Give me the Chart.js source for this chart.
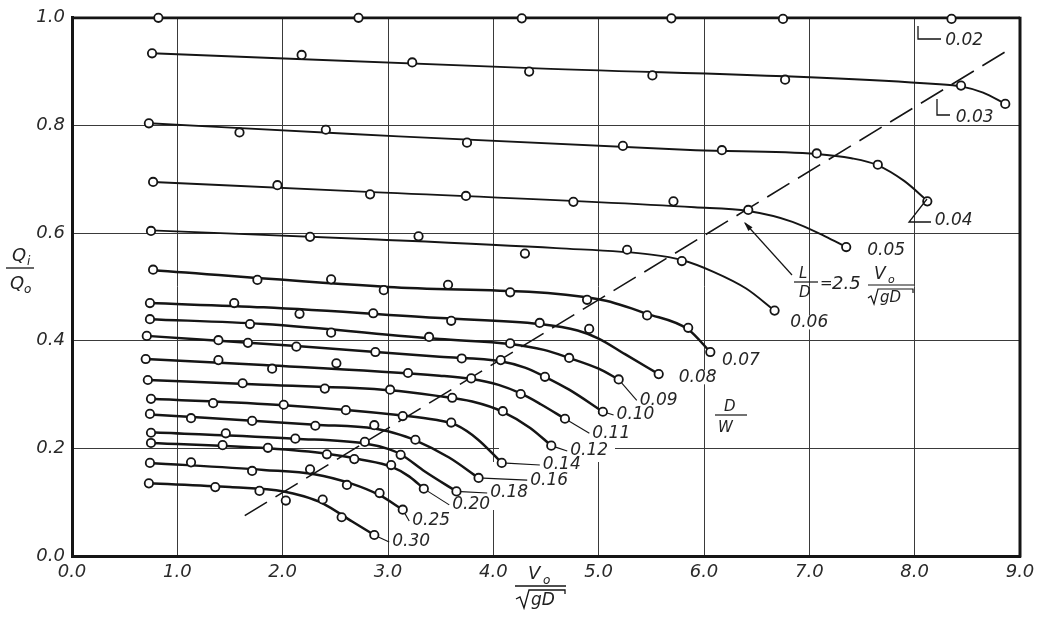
<!DOCTYPE html>
<html><head><meta charset="utf-8">
<script src="https://cdn.jsdelivr.net/npm/chart.js@4.4.1/dist/chart.umd.min.js"></script>
<style>html,body{margin:0;padding:0;background:#fff;overflow:hidden}#wrap{width:1049px;height:618px}</style>
</head><body><div id="wrap"><canvas id="c" width="1049" height="618"></canvas></div>
<script>
// ---------- data ----------
const dwLabels = ["0.02","0.03","0.04","0.05","0.06","0.07","0.08","0.09","0.10","0.11","0.12","0.14","0.16","0.18","0.20","0.25","0.30"];
const xTickLabels = ["0.0","1.0","2.0","3.0","4.0","5.0","6.0","7.0","8.0","9.0"];
const yTickLabels = ["0.0","0.2","0.4","0.6","0.8","1.0"];

// measured points (V0/sqrt(gD), Qi/Q0)
const m02 = [[0.82,1.0],[2.72,1.0],[4.27,0.999],[5.69,0.999],[6.75,0.998],[8.35,0.998]];
const m03 = [[0.76,0.934],[2.18,0.931],[3.23,0.917],[4.34,0.900],[5.51,0.893],[6.77,0.885],[8.44,0.874],[8.86,0.840]];
const m04 = [[0.73,0.804],[1.59,0.787],[2.41,0.792],[3.75,0.768],[5.23,0.762],[6.17,0.754],[7.07,0.748],[7.65,0.727],[8.12,0.659]];
const m05 = [[0.77,0.695],[1.95,0.689],[2.83,0.672],[3.74,0.669],[4.76,0.658],[5.71,0.659],[6.42,0.643],[7.35,0.574]];
const m06 = [[0.75,0.604],[2.26,0.593],[3.29,0.594],[4.30,0.562],[5.27,0.569],[5.79,0.548],[6.67,0.456]];
const m07 = [[0.77,0.532],[1.76,0.513],[2.46,0.514],[2.96,0.494],[3.57,0.504],[4.16,0.490],[4.89,0.476],[5.46,0.447],[5.85,0.424],[6.06,0.379]];
const m08 = [[0.74,0.470],[1.54,0.470],[2.16,0.450],[2.86,0.451],[3.60,0.437],[4.44,0.433],[4.91,0.422],[5.57,0.338]];
const m09 = [[0.74,0.440],[1.69,0.431],[2.46,0.415],[3.39,0.407],[4.16,0.395],[4.72,0.368],[5.19,0.328]];
const m10 = [[0.71,0.409],[1.39,0.401],[1.67,0.396],[2.13,0.389],[2.88,0.379],[3.70,0.367],[4.07,0.364],[4.49,0.333],[5.04,0.268]];
const m11 = [[0.70,0.366],[1.39,0.364],[1.90,0.348],[2.51,0.358],[3.19,0.340],[3.79,0.330],[4.26,0.301],[4.68,0.255]];
const m12 = [[0.72,0.327],[1.62,0.321],[2.40,0.311],[3.02,0.309],[3.61,0.294],[4.09,0.269],[4.55,0.205]];
const m14 = [[0.75,0.292],[1.34,0.284],[2.01,0.281],[2.60,0.271],[3.14,0.260],[3.60,0.248],[4.08,0.173]];
const m16 = [[0.74,0.264],[1.13,0.256],[1.71,0.251],[2.31,0.242],[2.87,0.243],[3.26,0.216],[3.86,0.145]];
const m18 = [[0.75,0.229],[1.46,0.228],[2.12,0.218],[2.78,0.212],[3.12,0.188],[3.65,0.120]];
const m20 = [[0.75,0.210],[1.43,0.206],[1.86,0.201],[2.42,0.189],[2.68,0.180],[3.03,0.169],[3.34,0.125]];
const m25 = [[0.74,0.173],[1.13,0.174],[1.71,0.158],[2.26,0.161],[2.61,0.132],[2.92,0.117],[3.14,0.086]];
const m30 = [[0.73,0.135],[1.36,0.128],[1.78,0.121],[2.03,0.103],[2.38,0.105],[2.56,0.072],[2.87,0.039]];

// faired curves
const f02 = [[0,1.0],[9,1.0]];
const f03 = [[0.76,0.934],[4.3,0.907],[8.2,0.877],[8.45,0.872],[8.65,0.861],[8.86,0.840]];
const f04 = [[0.73,0.804],[2.66,0.784],[5.92,0.754],[7.07,0.747],[7.4,0.739],[7.65,0.726],[7.9,0.697],[8.12,0.660]];
const f05 = [[0.77,0.695],[2.66,0.678],[5.91,0.648],[6.42,0.641],[6.84,0.621],[7.15,0.594],[7.35,0.574]];
const f06 = [[0.75,0.605],[2.9,0.588],[4.6,0.572],[5.5,0.560],[5.79,0.550],[6.09,0.528],[6.4,0.497],[6.67,0.456]];
const f07 = [[0.77,0.531],[3.0,0.500],[5.0,0.477],[5.46,0.450],[5.85,0.421],[6.06,0.379]];
const f08 = [[0.74,0.470],[1.82,0.462],[3.5,0.442],[4.44,0.431],[4.8,0.419],[5.0,0.404],[5.25,0.375],[5.57,0.338]];
const f09 = [[0.74,0.440],[1.82,0.431],[3.49,0.403],[4.16,0.394],[4.48,0.383],[4.72,0.368],[5.0,0.348],[5.19,0.328]];
const f10 = [[0.71,0.409],[2.13,0.390],[3.49,0.370],[4.07,0.362],[4.3,0.350],[4.49,0.333],[4.72,0.309],[5.04,0.268]];
const f11 = [[0.70,0.366],[1.82,0.355],[3.49,0.335],[3.79,0.329],[4.05,0.318],[4.26,0.302],[4.45,0.282],[4.68,0.255]];
const f12 = [[0.72,0.327],[1.82,0.318],[3.02,0.308],[3.45,0.298],[3.8,0.287],[4.09,0.268],[4.35,0.238],[4.55,0.205]];
const f14 = [[0.75,0.292],[2.01,0.280],[3.14,0.261],[3.45,0.253],[3.65,0.243],[3.85,0.217],[4.08,0.173]];
const f16 = [[0.74,0.263],[2.31,0.244],[2.87,0.237],[3.05,0.229],[3.26,0.215],[3.58,0.183],[3.86,0.145]];
const f18 = [[0.75,0.230],[2.12,0.218],[2.78,0.209],[3.0,0.199],[3.12,0.189],[3.35,0.157],[3.65,0.120]];
const f20 = [[0.75,0.210],[1.86,0.200],[2.42,0.190],[2.75,0.179],[3.03,0.166],[3.2,0.148],[3.34,0.125]];
const f25 = [[0.74,0.173],[1.82,0.160],[2.3,0.152],[2.66,0.134],[2.92,0.113],[3.14,0.086]];
const f30 = [[0.73,0.135],[1.5,0.128],[2.01,0.120],[2.2,0.111],[2.38,0.098],[2.66,0.064],[2.87,0.039]];

// L/D = 2.5 V0/sqrt(gD) guide line
const guideLine = [[1.64,0.075],[8.92,0.944]];

const markerSets = [m02,m03,m04,m05,m06,m07,m08,m09,m10,m11,m12,m14,m16,m18,m20,m25,m30];
const curveSets  = [f02,f03,f04,f05,f06,f07,f08,f09,f10,f11,f12,f14,f16,f18,f20,f25,f30];

// ---------- annotation placement ----------
const labelX = [8.29,8.39,8.19,7.55,6.82,6.17,5.76,5.39,5.17,4.94,4.73,4.47,4.35,3.97,3.61,3.23,3.04];
const labelY = [0.957,0.814,0.623,0.568,0.434,0.364,0.332,0.289,0.262,0.228,0.195,0.169,0.141,0.117,0.095,0.065,0.026];
const gridGaps = [[705,356,10,50],[812,247,10,91],[598,414,10,48],[492,462,9,48],[499,442,116,8]];

const FONT = '"DejaVu Sans", sans-serif';
const INK = '#151515';
const toXY = a => a.map(([x,y]) => ({x, y}));

const datasets = [];
curveSets.forEach((c,i) => datasets.push({
  data: toXY(c), showLine: true, borderColor: INK,
  borderWidth: i === 0 ? 2.8 : (i < 5 ? 1.9 : 2.5), pointRadius: 0, fill: false,
  cubicInterpolationMode: 'monotone', order: 2, clip: false
}));
datasets.push({data: toXY(guideLine), showLine: true, borderColor: INK, borderWidth: 1.6,
  borderDash: [26,10], pointRadius: 0, order: 3});
markerSets.forEach(m => datasets.push({
  data: toXY(m), showLine: false, pointRadius: 4.2, pointBackgroundColor: '#fff',
  pointBorderColor: INK, pointBorderWidth: 1.8, order: 0, clip: false
}));

function line(ctx, pts, w) {
  ctx.lineWidth = w || 1.3; ctx.beginPath();
  pts.forEach(([x,y],i) => i ? ctx.lineTo(x,y) : ctx.moveTo(x,y)); ctx.stroke();
}
function txt(ctx, s, x, y, size) {
  ctx.font = 'italic ' + size + 'px ' + FONT; ctx.fillText(s, x, y);
}

const annot = {
  id: 'annot',
  beforeDatasetsDraw(chart) {
    const ctx = chart.ctx; ctx.save(); ctx.fillStyle = '#fff';
    gridGaps.forEach(([x,y,w,h]) => ctx.fillRect(x,y,w,h)); ctx.restore();
  },
  afterDraw(chart) {
    const {ctx, chartArea: a, scales: {x: sx, y: sy}} = chart;
    ctx.save();
    ctx.strokeStyle = INK; ctx.fillStyle = '#222';
    // right border
    line(ctx, [[a.right, a.top-1],[a.right, a.bottom+1.5]], 3);
    // series labels
    ctx.textBaseline = 'middle'; ctx.textAlign = 'left';
    ctx.font = 'italic 17px ' + FONT;
    dwLabels.forEach((s,i) => {
      const lx = sx.getPixelForValue(labelX[i]), ly = sy.getPixelForValue(labelY[i]);
      const w = ctx.measureText(s).width;
      if (i >= 3) { ctx.fillStyle = '#fff'; ctx.fillRect(lx-1, ly-7, w+3, 14); }
      ctx.fillStyle = '#262626'; ctx.fillText(s, lx, ly);
      if (i >= 7) {
        const m = markerSets[i][markerSets[i].length-1];
        const mx = sx.getPixelForValue(m[0]), my = sy.getPixelForValue(m[1]);
        const dx = lx-3-mx, dy = ly-my, d = Math.hypot(dx,dy);
        if (d > 9) line(ctx, [[mx+dx/d*4.5, my+dy/d*4.5],[lx-3, ly]], 1.1);
      }
    });
    // L-shaped leaders for 0.02 / 0.03 / 0.04
    line(ctx, [[918,26],[918,39],[941,39]], 1.3);
    line(ctx, [[937,99],[937,115],[950,115]], 1.3);
    line(ctx, [[927,199],[909,222],[931,222]], 1.3);
    // y axis title Qi / Q0
    ctx.textBaseline = 'alphabetic'; ctx.fillStyle = '#222';
    txt(ctx, 'Q', 12, 261, 18); txt(ctx, 'i', 27, 265, 12);
    line(ctx, [[6,268],[34,268]], 1.3);
    txt(ctx, 'Q', 10, 289, 18); txt(ctx, 'o', 24, 293, 12);
    // x axis title V0 / sqrt(gD)
    txt(ctx, 'V', 528, 579, 18); txt(ctx, 'o', 543, 584, 12);
    line(ctx, [[515,586],[566,586]], 1.3);
    line(ctx, [[516,599],[520,597],[524,608],[529,590],[565,590],[565,594]], 1.3);
    txt(ctx, 'gD', 531, 605, 17);
    // formula L/D = 2.5 V0/sqrt(gD)
    txt(ctx, 'L', 799, 278, 15);
    line(ctx, [[794,282],[818,282]], 1.2);
    txt(ctx, 'D', 799, 297, 15);
    txt(ctx, '=', 820, 288, 15);
    txt(ctx, '2.5', 832, 289, 18);
    txt(ctx, 'V', 874, 279, 17); txt(ctx, 'o', 888, 283, 11);
    line(ctx, [[868,285],[914,285]], 1.2);
    line(ctx, [[868,298],[871,296],[874,304],[878,289],[913,289],[913,293]], 1.2);
    txt(ctx, 'gD', 880, 302, 15);
    // arrow to guide line
    line(ctx, [[792,275],[745,223]], 1.2);
    (function(){ const tx=744, ty=222, ang=Math.atan2(275-222, 792-744);
      ctx.beginPath(); ctx.moveTo(tx,ty);
      ctx.lineTo(tx+10*Math.cos(ang-0.28), ty+10*Math.sin(ang-0.28));
      ctx.lineTo(tx+10*Math.cos(ang+0.28), ty+10*Math.sin(ang+0.28));
      ctx.closePath(); ctx.fillStyle = INK; ctx.fill(); })();
    // D/W
    ctx.fillStyle = '#222';
    txt(ctx, 'D', 724, 411, 15);
    line(ctx, [[715,415],[747,415]], 1.2);
    txt(ctx, 'W', 718, 432, 15);
    ctx.restore();
  }
};

new Chart(document.getElementById('c'), {
  type: 'scatter',
  data: { datasets },
  options: {
    responsive: false, animation: false, devicePixelRatio: 1,
    layout: { padding: { top: 17, right: 29, left: 0, bottom: 0 } },
    plugins: { legend: { display: false }, tooltip: { enabled: false } },
    scales: {
      x: {
        type: 'linear', min: 0, max: 9,
        ticks: { stepSize: 1, autoSkip: false, maxRotation: 0, padding: 6, color: '#2a2a2a',
          font: { family: FONT, size: 18, style: 'italic' },
          callback: v => xTickLabels[Math.round(v)] },
        grid: { color: '#3a3a3a', lineWidth: 1, drawTicks: false },
        border: { display: true, color: INK, width: 3 },
        afterFit: s => { s.height = 62; }
      },
      y: {
        type: 'linear', min: 0, max: 1,
        ticks: { stepSize: 0.2, padding: 7, color: '#2a2a2a',
          font: { family: FONT, size: 18, style: 'italic' },
          callback: v => yTickLabels[Math.round(v*5)] },
        grid: { color: '#3a3a3a', lineWidth: 1, drawTicks: false },
        border: { display: true, color: INK, width: 3 },
        afterFit: s => { s.width = 72; }
      }
    }
  },
  plugins: [annot]
});
</script></body></html>
